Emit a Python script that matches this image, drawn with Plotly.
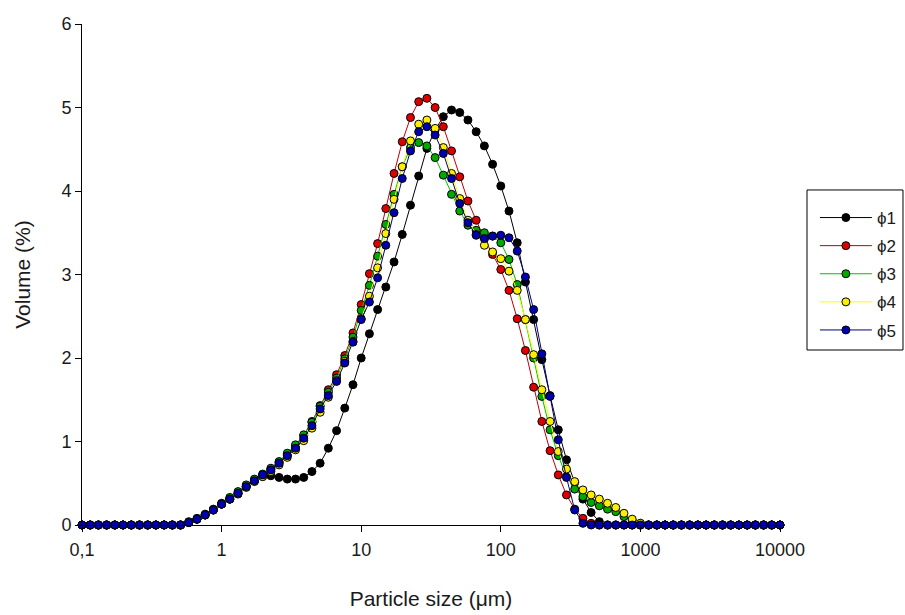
import plotly.graph_objects as go

# Size classes (µm), 17 classes per decade
sizes = [
    0.1, 0.1145, 0.1311, 0.1501, 0.1719, 0.1968, 0.2254, 0.2581, 0.2955, 0.3384, 0.3875, 0.4437, 0.5080, 0.5817, 0.6661, 0.7627, 0.8733,
    1.0, 1.145, 1.311, 1.501, 1.719, 1.968, 2.254, 2.581, 2.955, 3.384, 3.875, 4.437, 5.080, 5.817, 6.661, 7.627, 8.733,
    10.0, 11.45, 13.11, 15.01, 17.19, 19.68, 22.54, 25.81, 29.55, 33.84, 38.75, 44.37, 50.80, 58.17, 66.61, 76.27, 87.33,
    100.0, 114.5, 131.1, 150.1, 171.9, 196.8, 225.4, 258.1, 295.5, 338.4, 387.5, 443.7, 508.0, 581.7, 666.1, 762.7, 873.3,
    1000.0, 1145, 1311, 1501, 1719, 1968, 2254, 2581, 2955, 3384, 3875, 4437, 5080, 5817, 6661, 7627, 8733,
    10000.0,
]

phi1 = [
    0, 0, 0, 0, 0, 0, 0, 0, 0, 0, 0, 0, 0,
    0.03, 0.07, 0.12, 0.18, 0.25, 0.31, 0.38, 0.46, 0.53,
    0.58, 0.59, 0.57, 0.55, 0.55, 0.57, 0.64, 0.74, 0.92, 1.13, 1.40, 1.68, 2.00, 2.29, 2.58, 2.85,
    3.15, 3.48, 3.83, 4.18, 4.51, 4.73, 4.89, 4.97, 4.94, 4.85, 4.71, 4.54, 4.32, 4.06, 3.76, 3.38,
    2.91, 2.46, 1.98, 1.55, 1.14, 0.78, 0.51, 0.31, 0.15, 0.04,
    0, 0, 0, 0, 0, 0, 0, 0, 0, 0, 0, 0, 0, 0, 0, 0, 0, 0, 0, 0, 0, 0,
]

phi2 = [
    0, 0, 0, 0, 0, 0, 0, 0, 0, 0, 0, 0, 0,
    0.03, 0.07, 0.12, 0.18, 0.25, 0.31, 0.38, 0.46, 0.53,
    0.60, 0.67, 0.75, 0.84, 0.95, 1.07, 1.24, 1.43, 1.62, 1.80, 2.03, 2.30, 2.64, 3.01, 3.37, 3.79,
    4.21, 4.59, 4.88, 5.07, 5.11, 5.00, 4.77, 4.48, 4.17, 3.88, 3.65, 3.43, 3.24, 3.06, 2.81, 2.47,
    2.09, 1.65, 1.24, 0.89, 0.60, 0.36, 0.19, 0.08, 0.02,
    0, 0, 0, 0, 0, 0, 0, 0, 0, 0, 0, 0, 0, 0, 0, 0, 0, 0, 0, 0, 0, 0, 0,
]

phi3 = [
    0, 0, 0, 0, 0, 0, 0, 0, 0, 0, 0, 0, 0,
    0.04, 0.08, 0.13, 0.19, 0.26, 0.33, 0.40, 0.48, 0.55,
    0.61, 0.68, 0.76, 0.86, 0.96, 1.08, 1.23, 1.42, 1.59, 1.76, 1.99, 2.25, 2.57, 2.87, 3.22, 3.60,
    3.96, 4.29, 4.52, 4.58, 4.54, 4.40, 4.19, 3.96, 3.76, 3.59, 3.53, 3.50, 3.46, 3.38, 3.18, 2.88,
    2.46, 2.00, 1.54, 1.14, 0.83, 0.58, 0.43, 0.34, 0.27, 0.23, 0.19, 0.16, 0.10, 0.05, 0.02,
    0, 0, 0, 0, 0, 0, 0, 0, 0, 0, 0, 0, 0, 0, 0, 0, 0,
]

phi4 = [
    0, 0, 0, 0, 0, 0, 0, 0, 0, 0, 0, 0, 0,
    0.03, 0.07, 0.12, 0.18, 0.25, 0.31, 0.37, 0.45, 0.52,
    0.58, 0.64, 0.72, 0.81, 0.90, 1.01, 1.16, 1.35, 1.53, 1.73, 1.96, 2.20, 2.47, 2.74, 3.08, 3.49,
    3.90, 4.29, 4.60, 4.80, 4.85, 4.75, 4.52, 4.21, 3.91, 3.65, 3.48, 3.35, 3.27, 3.19, 3.04, 2.81,
    2.46, 2.04, 1.62, 1.24, 0.88, 0.67, 0.52, 0.42, 0.36, 0.31, 0.26, 0.21, 0.14, 0.07, 0.02,
    0, 0, 0, 0, 0, 0, 0, 0, 0, 0, 0, 0, 0, 0, 0, 0, 0,
]

phi5 = [
    0, 0, 0, 0, 0, 0, 0, 0, 0, 0, 0, 0, 0,
    0.03, 0.07, 0.12, 0.18, 0.25, 0.31, 0.38, 0.46, 0.53,
    0.60, 0.66, 0.74, 0.83, 0.92, 1.04, 1.19, 1.39, 1.55, 1.72, 1.94, 2.19, 2.46, 2.67, 2.96, 3.35,
    3.74, 4.15, 4.48, 4.71, 4.77, 4.67, 4.45, 4.15, 3.85, 3.62, 3.47, 3.43, 3.46, 3.47, 3.44, 3.28,
    2.97, 2.58, 2.05, 1.54, 1.02, 0.57, 0.18, 0.02,
    0, 0, 0, 0, 0, 0, 0, 0, 0, 0, 0, 0, 0, 0, 0, 0, 0, 0, 0, 0, 0, 0, 0, 0,
]

names = ["ϕ1", "ϕ2", "ϕ3", "ϕ4", "ϕ5"]
values = [phi1, phi2, phi3, phi4, phi5]
line_colors = ["#000000", "#c00000", "#00c000", "#ffff00", "#000080"]
fill_colors = ["#000000", "#dd0000", "#00a800", "#ffee00", "#0000b0"]

x_tickvals = [0.1, 1, 10, 100, 1000, 10000]
x_ticktext = ["0,1", "1", "10", "100", "1000", "10000"]
y_tickvals = [0, 1, 2, 3, 4, 5, 6]

FONT = "Liberation Sans, Arial, sans-serif"

fig = go.Figure()
for name, y, lc, fc in zip(names, values, line_colors, fill_colors):
    fig.add_trace(go.Scatter(
        x=sizes, y=y, name=name, mode="lines+markers",
        line=dict(color=lc, width=1),
        marker=dict(size=8, color=fc, line=dict(color="#000000", width=1)),
        cliponaxis=False, legendgroup=name,
    ))

fig.update_layout(
    width=905, height=615,
    margin=dict(l=82, r=125, t=24, b=90, autoexpand=False),
    paper_bgcolor="white", plot_bgcolor="white",
    font=dict(family=FONT, color="#1a1a1a"),
    showlegend=True,
    legend=dict(
        x=1.0500, y=0.6487, xanchor="left", yanchor="top",
        borderwidth=0, bgcolor="rgba(0,0,0,0)",
        font=dict(size=17, family=FONT, color="#1a1a1a"),
        itemwidth=52, tracegroupgap=3,
    ),
    shapes=[dict(
        type="rect", xref="paper", yref="paper",
        x0=1.0387, x1=1.1762, y0=0.3493, y1=0.6687,
        line=dict(color="#000000", width=1), fillcolor="rgba(0,0,0,0)",
        layer="below",
    )],
    xaxis=dict(
        type="log", range=[-1, 4],
        tickvals=x_tickvals, ticktext=x_ticktext,
        showline=True, linecolor="#000000", linewidth=1,
        ticks="outside", ticklen=6, tickcolor="#000000",
        showgrid=False, zeroline=False,
        tickfont=dict(size=18), ticklabelstandoff=2,
        title=dict(text="Particle size (μm)", font=dict(size=21), standoff=32),
    ),
    yaxis=dict(
        range=[0, 6], tickvals=y_tickvals,
        showline=True, linecolor="#000000", linewidth=1,
        ticks="outside", ticklen=6, tickcolor="#000000",
        showgrid=False, zeroline=False,
        tickfont=dict(size=18),
        title=dict(text="Volume (%)", font=dict(size=21), standoff=25),
    ),
)

fig.write_html("out.html")
